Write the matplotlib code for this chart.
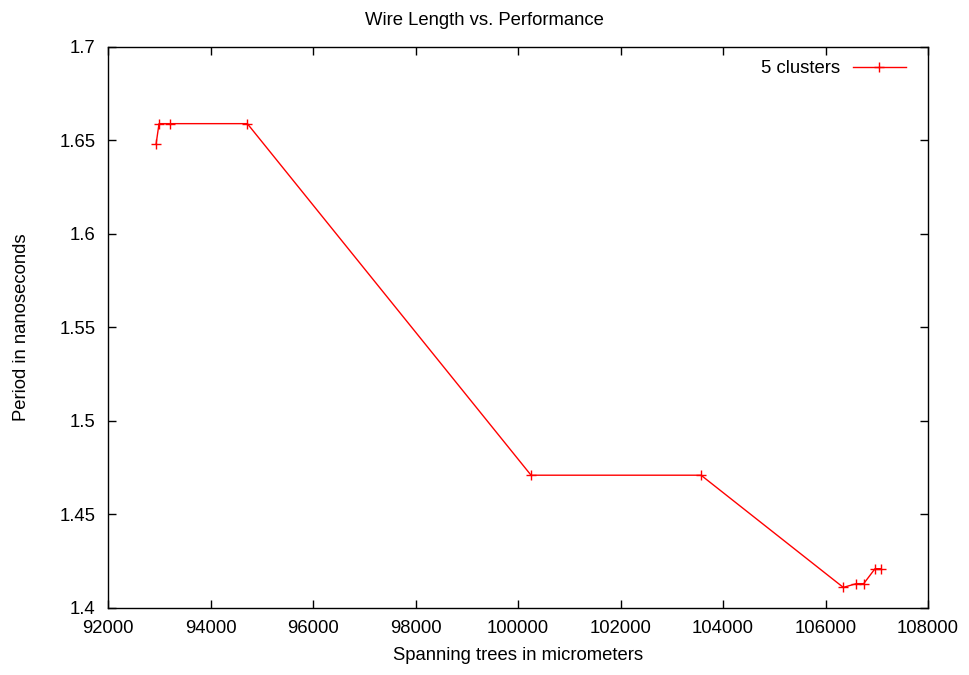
import matplotlib
matplotlib.use("Agg")
import matplotlib.pyplot as plt

plt.rcParams["font.family"] = ["Liberation Sans", "DejaVu Sans"]

# wire length (micrometers) vs. clock period (ns), 5 clusters
wire_length = [92937, 92995, 93204, 94718, 100254, 103571,
               106347, 106600, 106745, 106966, 107088]
period = [1.648, 1.659, 1.659, 1.659, 1.471, 1.471,
          1.411, 1.413, 1.413, 1.421, 1.421]

xticks = [92000, 94000, 96000, 98000, 100000, 102000, 104000, 106000, 108000]
yticks = [1.4, 1.45, 1.5, 1.55, 1.6, 1.65, 1.7]

FS = 13.3

fig = plt.figure(figsize=(9.69, 6.75), dpi=100)
ax = fig.add_axes([0.1115, 0.0993, 0.8462, 0.8311])

ax.plot(wire_length, period, "-", color="red", lw=1, marker="+", ms=6.5, mew=1,
        label="5 clusters")

ax.set_xlim(92000, 108000)
ax.set_ylim(1.4, 1.7)
ax.set_xticks(xticks)
ax.set_xticklabels([str(v) for v in xticks])
ax.set_yticks(yticks)
ax.set_yticklabels(["%g" % v for v in yticks])
ax.tick_params(direction="in", length=6, width=1, top=True, right=True,
               labelsize=FS)
ax.tick_params(axis="x", pad=9)
ax.tick_params(axis="y", pad=9)
for s in ax.spines.values():
    s.set_linewidth(1)

ax.set_xlabel("Spanning trees in micrometers", fontsize=FS)
ax.xaxis.set_label_coords(0.5, -0.0856)
ax.xaxis.label.set_va("center")
ax.set_ylabel("Period in nanoseconds", fontsize=FS)
ax.yaxis.set_label_coords(-0.106, 0.5)
ax.yaxis.label.set_va("center")
fig.text(0.5, 0.969, "Wire Length vs. Performance", ha="center", va="center",
         fontsize=FS)

leg = ax.legend(loc="upper right", bbox_to_anchor=(0.973, 0.9765), frameon=False,
                fontsize=FS, markerfirst=False, handlelength=2.87,
                handletextpad=0.7, borderaxespad=0, borderpad=0)

fig.savefig("out.png", dpi=100)
